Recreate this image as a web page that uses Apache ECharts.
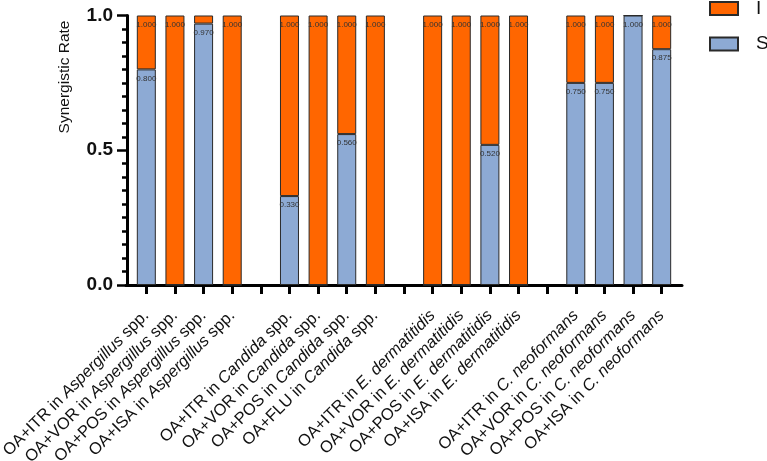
<!DOCTYPE html>
<html>
<head>
<meta charset="utf-8">
<script src="https://cdn.jsdelivr.net/npm/echarts@6/dist/echarts.min.js"></script>
<style>
html,body{margin:0;padding:0;background:#fff;}
#chart{width:767px;height:461px;}
</style>
</head>
<body>
<div id="chart"></div>
<script>
// Category labels (empty strings are the gaps between organism groups)
const categories = [
  'OA+ITR in {i|Aspergillus} spp.',
  'OA+VOR in {i|Aspergillus} spp.',
  'OA+POS in {i|Aspergillus} spp.',
  'OA+ISA in {i|Aspergillus} spp.',
  '',
  'OA+ITR in {i|Candida} spp.',
  'OA+VOR in {i|Candida} spp.',
  'OA+POS in {i|Candida} spp.',
  'OA+FLU in {i|Candida} spp.',
  '',
  'OA+ITR in {i|E. dermatitidis}',
  'OA+VOR in {i|E. dermatitidis}',
  'OA+POS in {i|E. dermatitidis}',
  'OA+ISA in {i|E. dermatitidis}',
  '',
  'OA+ITR in {i|C. neoformans}',
  'OA+VOR in {i|C. neoformans}',
  'OA+POS in {i|C. neoformans}',
  'OA+ISA in {i|C. neoformans}'
];
// S = synergistic rate, I = indifferent rate
const sRate = [0.800, 0, 0.970, 0, null, 0.330, 0, 0.560, 0, null, 0, 0, 0.520, 0, null, 0.750, 0.750, 1.000, 0.875];
const iRate = [0.200, 1.000, 0.030, 1.000, null, 0.670, 1.000, 0.440, 1.000, null, 1.000, 1.000, 0.480, 1.000, null, 0.250, 0.250, 0, 0.125];
const yTicks = ['0.0', '0.5', '1.0'];

const FONT = '"Liberation Sans", Arial, Helvetica, sans-serif';
const chart = echarts.init(document.getElementById('chart'), null, {renderer: 'canvas'});

const labelStyle = {
  fontSize: 8,
  fontFamily: FONT,
  color: '#333',
  position: 'insideTop',
  distance: 5
};

chart.setOption({
  animation: false,
  backgroundColor: '#fff',
  textStyle: {fontFamily: FONT},
  legend: {
    orient: 'vertical',
    left: 709,
    top: -1.5,
    padding: 0,
    icon: 'rect',
    itemWidth: 28,
    itemHeight: 13,
    itemGap: 15.5,
    data: ['I', 'S'],
    textStyle: {fontSize: 19, lineHeight: 20, color: '#111', fontFamily: FONT, padding: [0, 0, 0, 13]}
  },
  graphic: [{
    type: 'text',
    x: 65,
    y: 77,
    rotation: Math.PI / 2,
    style: {
      text: 'Synergistic Rate',
      font: '15.5px ' + FONT,
      fill: '#111',
      align: 'center',
      verticalAlign: 'middle'
    }
  }],
  grid: [
    {left: 132, right: 91, top: 15.5, bottom: 176, containLabel: false, outerBoundsMode: 'none'},
    {left: 126, right: 85, top: 15.5, bottom: 176, containLabel: false, outerBoundsMode: 'none'}
  ],
  xAxis: [{
    type: 'category',
    gridIndex: 0,
    data: categories,
    axisLine: {show: true, lineStyle: {color: '#000', width: 3}},
    axisTick: {show: true, alignWithLabel: true, interval: 0, length: 9, lineStyle: {color: '#000', width: 3}},
    axisLabel: {
      interval: 0,
      rotate: 45,
      margin: 28,
      fontSize: 16.5,
      color: '#111',
      fontFamily: FONT,
      hideOverlap: false,
      rich: {i: {fontStyle: 'italic', fontSize: 16.5, color: '#111', fontFamily: FONT}}
    },
    splitLine: {show: false}
  }, {
    type: 'value',
    gridIndex: 1,
    min: 0,
    max: 1,
    axisLine: {show: true, onZero: false, lineStyle: {color: '#000', width: 3}},
    axisTick: {show: false},
    axisLabel: {show: false},
    splitLine: {show: false}
  }],
  yAxis: [{
    type: 'value',
    gridIndex: 0,
    min: 0,
    max: 1,
    interval: 0.5,
    offset: 5,
    axisLine: {show: true, lineStyle: {color: '#000', width: 3}},
    axisTick: {show: true, length: 10, lineStyle: {color: '#000', width: 2.5}},
    minorTick: {show: true, splitNumber: 10, length: 5, lineStyle: {color: '#000', width: 2.5}},
    axisLabel: {
      margin: 14,
      fontSize: 19,
      fontWeight: 'bold',
      color: '#111',
      fontFamily: FONT,
      formatter: function (v) {
        const idx = Math.round(v / 0.5);
        return yTicks[idx] !== undefined ? yTicks[idx] : '';
      }
    },
    splitLine: {show: false}
  }, {
    type: 'value',
    gridIndex: 1,
    show: false,
    min: 0,
    max: 1
  }],
  series: [{
    name: 'S',
    type: 'bar',
    stack: 'total',
    barWidth: 19,
    data: sRate,
    itemStyle: {color: '#8DAAD4', borderColor: '#2a2a2a', borderWidth: 1},
    label: Object.assign({
      show: true,
      formatter: function (p) {
        return p.value > 0 ? p.value.toFixed(3) : '';
      }
    }, labelStyle)
  }, {
    name: 'I',
    type: 'bar',
    stack: 'total',
    barWidth: 19,
    data: iRate,
    itemStyle: {color: '#FF6600', borderColor: '#2a2a2a', borderWidth: 1},
    label: Object.assign({
      show: true,
      formatter: function (p) {
        const i = p.dataIndex;
        if (!(iRate[i] > 0.1)) return '';
        return (sRate[i] + iRate[i]).toFixed(3);
      }
    }, labelStyle)
  }]
});
</script>
</body>
</html>
